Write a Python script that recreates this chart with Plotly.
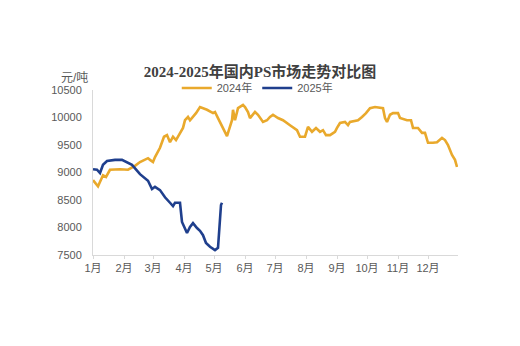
import pandas as pd
import plotly.graph_objects as go

# 2024 series (dates in 2024)
dates_2024 = ["01-01","01-06","01-11","01-14","01-18","01-23","01-28","02-05","02-12","02-17",
              "02-25","02-27","03-01","03-03","03-08","03-12","03-15","03-18","03-21","03-24",
              "03-27","03-31","04-02","04-05","04-07","04-09","04-13","04-17","04-20","04-24",
              "04-30","05-02","05-05","05-09","05-14","05-19","05-20","05-22","05-25","05-30",
              "06-01","06-04","06-06","06-11","06-14","06-19","06-23","06-26","06-29","07-04",
              "07-09","07-16","07-23","07-26","07-31","08-03","08-07","08-11","08-15","08-18",
              "08-21","08-25","08-30","09-01","09-04","09-09","09-12","09-14","09-19","09-22",
              "09-26","09-30","10-04","10-09","10-17","10-19","10-21","10-24","10-27","11-01",
              "11-03","11-10","11-14","11-16","11-21","11-25","11-28","12-01","12-06","12-10",
              "12-15","12-18","12-21","12-25","12-28","12-30"]
values_2024 = [8860,8750,8950,8920,9050,9060,9060,9050,9120,9190,
               9260,9230,9190,9280,9450,9650,9680,9550,9650,9590,
               9680,9810,9950,10010,9950,9990,10080,10190,10170,10140,
               10080,10100,9990,9830,9660,9950,10140,9950,10170,10230,
               10190,10100,9990,10100,10050,9920,9950,10010,10050,9990,
               9950,9860,9770,9650,9650,9830,9740,9810,9740,9770,
               9680,9680,9740,9810,9900,9920,9860,9920,9940,9950,
               10010,10080,10170,10190,10170,9990,9920,10050,10080,10080,
               9990,9950,9950,9810,9810,9720,9720,9540,9540,9550,
               9630,9590,9500,9320,9230,9100]

# 2025 series (dates in 2025)
dates_2025 = ["01-01","01-05","01-08","01-11","01-15","01-23","01-30","02-05","02-09","02-17",
              "02-25","03-01","03-04","03-09","03-14","03-19","03-22","03-24","03-29","03-31",
              "04-03","04-05","04-08","04-11","04-15","04-18","04-21","04-24","04-28","05-03",
              "05-06","05-09","05-10"]
values_2025 = [9060,9050,8990,9140,9210,9230,9230,9170,9140,8970,
               8850,8700,8740,8680,8550,8450,8390,8450,8450,8100,
               7990,7900,8010,8080,7990,7940,7860,7720,7650,7590,
               7630,8410,8450]

month_ticks = ["2024-%02d-01" % m for m in range(1, 13)]
month_labels = ["%d月" % m for m in range(1, 13)]
y_ticks = [7500, 8000, 8500, 9000, 9500, 10000, 10500]
y_labels = [str(v) for v in y_ticks]

x24 = pd.to_datetime(["2024-" + d for d in dates_2024])
d25 = pd.to_datetime(["2025-" + d for d in dates_2025])
x25 = pd.Timestamp("2024-01-01") + (d25 - pd.Timestamp("2025-01-01"))

GOLD = "#E9A92C"
BLUE = "#1F3F8D"

fig = go.Figure()
fig.add_trace(go.Scatter(x=x24, y=values_2024, mode="lines", name="2024年",
                         line=dict(color=GOLD, width=2.6)))
fig.add_trace(go.Scatter(x=x25, y=values_2025, mode="lines", name="2025年",
                         line=dict(color=BLUE, width=2.6)))

fig.update_layout(
    width=520, height=346,
    margin=dict(l=93, r=62, t=90, b=91, autoexpand=False),
    paper_bgcolor="white", plot_bgcolor="white",
    font=dict(family="Liberation Sans, Noto Sans CJK SC", size=11, color="#595959"),
    title=dict(text="<b>2024-2025年国内PS市场走势对比图</b>",
               x=0.5, xanchor="center", y=1 - 72 / 346, yanchor="middle", yref="container",
               font=dict(family="Liberation Serif, Noto Sans CJK SC", size=15, color="#404040")),
    legend=dict(orientation="h", x=0.45, xanchor="center", y=1 - 88 / 346, yanchor="middle",
                yref="container", font=dict(size=11, color="#595959"),
                bgcolor="rgba(0,0,0,0)", itemwidth=30),
    showlegend=True,
    xaxis=dict(type="date", range=["2024-01-01", "2024-12-31"],
               tickvals=month_ticks, ticktext=month_labels,
               showgrid=False, showline=True, linecolor="#D9D9D9", linewidth=1,
               ticks="outside", ticklen=3, tickcolor="#D9D9D9", zeroline=False),
    yaxis=dict(range=[7500, 10500], tickvals=y_ticks, ticktext=y_labels, showgrid=False,
               showline=True, linecolor="#D9D9D9", linewidth=1, ticks="",
               zeroline=False, ticklabelstandoff=8),
    annotations=[dict(text="元/吨", xref="paper", yref="paper",
                      x=-0.052, y=1.073, xanchor="center", yanchor="middle",
                      showarrow=False, font=dict(size=12, color="#595959"))],
)

fig.write_html("out.html")
